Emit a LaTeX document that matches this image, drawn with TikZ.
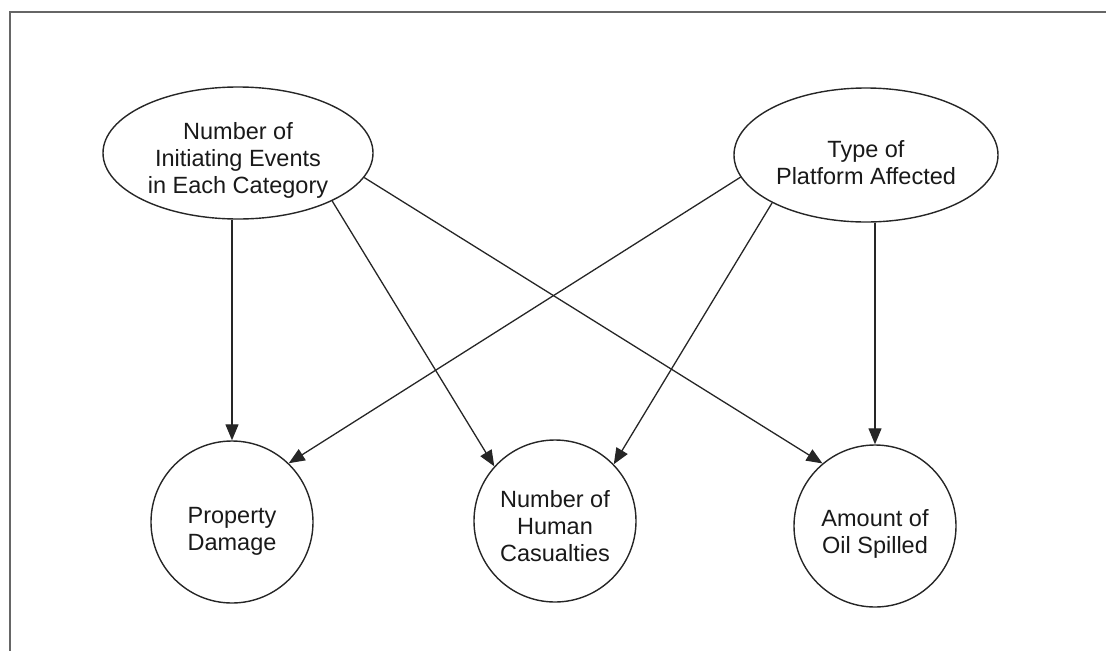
\documentclass[tikz,border=0pt]{standalone}
\usepackage{fontspec}
\setmainfont{Liberation Sans}
\usetikzlibrary{shapes.geometric,arrows.meta}
\begin{document}
\begin{tikzpicture}[x=1pt,y=-1pt,
  every node/.style={inner sep=0pt},
  caption/.style={font=\fontsize{23.5}{27}\selectfont, text=black!90, align=center, inner sep=0pt},
  oval/.style={ellipse, draw=black!85, line width=1.4pt},
  round/.style={circle, draw=black!85, line width=1.4pt, minimum size=162pt},
  link/.style={draw=black!85, line width=1.3pt, -{Triangle[length=16pt,width=13pt]}},
  frame/.style={draw=black!60, line width=2pt}]
  \useasboundingbox (0,0) rectangle (1106,651);
  % open frame: top and left edges
  \draw[frame] (1106,12) -- (10,12) -- (10,651);

  % parent variables
  \node[oval, minimum width=270pt, minimum height=132pt,
        label={[caption, yshift=-7pt]center:{Number of\\Initiating Events\\in Each Category}}]
        (ne) at (238,153) {};
  \node[oval, minimum width=264pt, minimum height=134pt,
        label={[caption, yshift=-8pt]center:{Type of\\Platform Affected}}]
        (tp) at (866,155) {};

  % outcome variables
  \node[round, label={[caption, yshift=-9pt]center:{Property\\Damage}}] (pd) at (232,522) {};
  \node[round, label={[caption, yshift=-5pt]center:{Number of\\Human\\Casualties}}] (hc) at (555,521) {};
  \node[round, label={[caption, yshift=-8pt]center:{Amount of\\Oil Spilled}}] (os) at (875,526) {};

  % influences
  \draw[link] (pd |- ne.south) -- (pd);
  \draw[link] (ne.-27) -- (hc.138);
  \draw[link] (ne.-11) -- (os.130);
  \draw[link] (tp.-170) -- (pd.46);
  \draw[link] (tp.-153) -- (hc.44);
  \draw[link] (os |- tp.south) -- (os);
\end{tikzpicture}
\end{document}
